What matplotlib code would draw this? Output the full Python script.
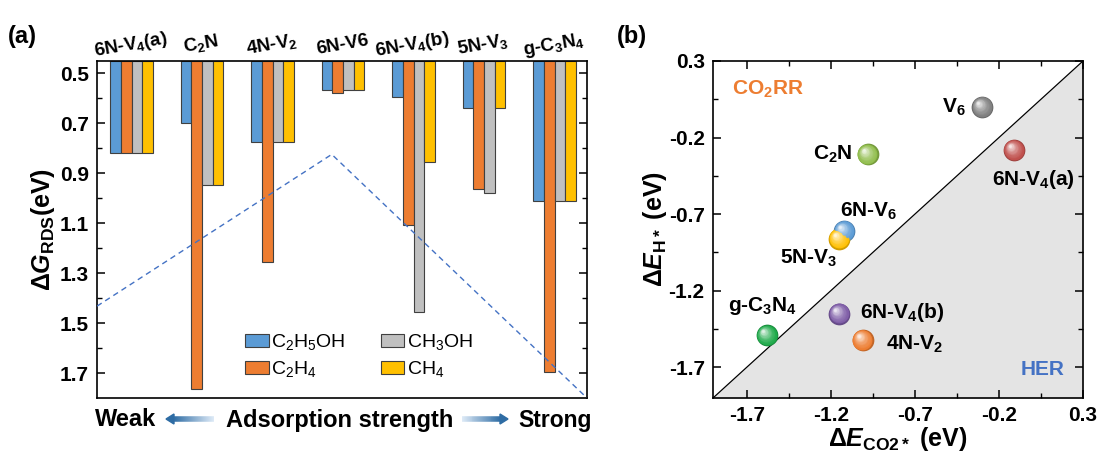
"""Two-panel figure: limiting-step free energies per catalyst (a) and CO2* vs H* binding map (b)."""

import numpy as np
import matplotlib
matplotlib.use("Agg")
import matplotlib.pyplot as plt
from matplotlib import transforms
from matplotlib.colors import to_rgb
from matplotlib.patches import Polygon

plt.rcParams['font.family'] = ['Liberation Sans', 'DejaVu Sans']
plt.rcParams['font.weight'] = 'bold'
plt.rcParams['mathtext.fontset'] = 'custom'
plt.rcParams['mathtext.default'] = 'regular'
plt.rcParams['mathtext.it'] = 'Liberation Sans:italic:bold'
plt.rcParams['axes.linewidth'] = 1.2

# ---- data, panel (a) ----
catalysts = ['6N-V$_4$(a)', 'C$_2$N', '4N-V$_2$', '6N-V6', '6N-V$_4$(b)', '5N-V$_3$', 'g-C$_3$N$_4$']
products = ['C$_2$H$_5$OH', 'C$_2$H$_4$', 'CH$_3$OH', 'CH$_4$']
g_c2h5oh = [0.82, 0.70, 0.775, 0.568, 0.595, 0.637, 1.012]
g_c2h4 = [0.82, 1.765, 1.257, 0.577, 1.107, 0.964, 1.695]
g_ch3oh = [0.82, 0.945, 0.775, 0.568, 1.457, 0.977, 1.012]
g_ch4 = [0.82, 0.945, 0.775, 0.568, 0.855, 0.637, 1.012]
g_yticks = [0.5, 0.7, 0.9, 1.1, 1.3, 1.5, 1.7]
# volcano-like guide line (group index, dG)
trend_x = [-0.49, 2.84, 6.46]
trend_y = [1.432, 0.824, 1.80]

# ---- data, panel (b) ----
materials = ['V$_6$', '6N-V$_4$(a)', 'C$_2$N', '6N-V$_6$', '5N-V$_3$', 'g-C$_3$N$_4$', '6N-V$_4$(b)', '4N-V$_2$']
e_co2 = [-0.30, -0.11, -0.98, -1.12, -1.15, -1.58, -1.15, -1.01]
e_h = [0.0, -0.28, -0.31, -0.81, -0.86, -1.49, -1.35, -1.52]
e_ticks = [-1.7, -1.2, -0.7, -0.2, 0.3]

bar_colors = ['#5b9bd5', '#ed7d31', '#c0c0c0', '#ffc000']
ball_colors = ['#7f7f7f', '#c0504d', '#8fbc4a', '#5b9bd5', '#ffc000', '#1faa4a', '#7d5ba6', '#ed7d31']
# label offsets in points and alignment for panel (b)
label_pos = [(-12, 0, 'right'), (14, -21, 'center'), (-11, 0, 'right'), (18, 14, 'center'),
             (-22, -14, 'center'), (-3, 21, 'center'), (15, 1, 'left'), (17, -3, 'left')]

fig = plt.figure(figsize=(11.04, 4.57), dpi=100)
W, H = 1104, 457

# =================== panel (a) ===================
ax = fig.add_axes([97 / W, 1 - 398 / H, (587 - 97) / W, (398 - 61) / H])
x = np.arange(len(catalysts))
bw = 0.15
y_top = 0.45
for i, (vals, c, lab) in enumerate(zip([g_c2h5oh, g_c2h4, g_ch3oh, g_ch4], bar_colors, products)):
    v = np.array(vals)
    ax.bar(x + (i - 1.5) * bw, v - y_top, bottom=y_top, width=bw, color=c,
           edgecolor='#404040', linewidth=0.8, label=lab, zorder=2)

ax.plot(trend_x, trend_y, ls='--', color='#4472c4', lw=1.0, dashes=(4, 3), zorder=3)

ax.set_xlim(-0.49, 6.46)
ax.set_ylim(1.8, y_top)
ax.set_yticks(g_yticks)
ax.set_yticks(np.array(g_yticks[:-1]) + 0.1, minor=True)
ax.set_yticklabels([f'{t:.1f}' for t in g_yticks], fontsize=15, fontweight='bold')
ax.tick_params(axis='y', which='major', direction='in', length=6, width=1.1, right=True, pad=6)
ax.tick_params(axis='y', which='minor', direction='in', length=3.5, width=1.0, right=True)
ax.set_xticks([])

# catalyst names above the groups, slightly tilted
top_tr = transforms.blended_transform_factory(ax.transData, ax.transAxes)
for xi, name in zip(x, catalysts):
    ax.text(xi, 1.035, name, transform=top_tr, fontsize=13.5, fontweight='bold',
            rotation=10, rotation_mode='anchor', ha='center', va='baseline')
ax.set_ylabel('Δ$\\mathit{G}_{RDS}$(eV)', fontsize=18, fontweight='bold', labelpad=2)

ax.legend(loc='center', bbox_to_anchor=(0.535, 0.125), ncol=2, frameon=False,
          prop={'weight': 'normal', 'size': 14}, handlelength=1.2,
          handleheight=0.6, handletextpad=0.15, columnspacing=1.8, labelspacing=0.35)

# bottom caption with gradient arrows
fy = 1 - 420 / H
fig.text(95 / W, fy, 'Weak', fontsize=17, fontweight='bold', ha='left', va='center')
fig.text(340 / W, fy, 'Adsorption strength', fontsize=17, fontweight='bold', ha='center', va='center')
fig.text(592 / W, fy, 'Strong', fontsize=16.5, fontweight='bold', ha='right', va='center')


def grad_arrow(x_tail, x_head, y, n=40):
    dark = np.array(to_rgb('#2e6ca4'))
    light = np.array(to_rgb('#dce9f6'))
    head_len = 8 if x_head > x_tail else -8
    xs = np.linspace(x_tail, x_head - head_len, n + 1)
    for k in range(n):
        t = k / n
        col = light * (1 - t) + dark * t
        fig.add_artist(plt.Line2D([xs[k] / W, xs[k + 1] / W], [1 - y / H, 1 - y / H],
                                  color=col, lw=4, solid_capstyle='butt',
                                  transform=fig.transFigure))
    base = x_head - head_len
    tri = Polygon([[base / W, 1 - (y - 5) / H], [base / W, 1 - (y + 5) / H], [x_head / W, 1 - y / H]],
                  closed=True, color=dark, transform=fig.transFigure)
    fig.add_artist(tri)


grad_arrow(214, 166, 419)
grad_arrow(462, 508, 419)

fig.text(8 / W, 1 - 36 / H, '(a)', fontsize=17, fontweight='bold', va='center')
fig.text(617 / W, 1 - 36 / H, '(b)', fontsize=17, fontweight='bold', va='center')

# =================== panel (b) ===================
bx = fig.add_axes([713 / W, 1 - 398 / H, (1083 - 713) / W, (398 - 61) / H])
lo, hi = -1.9, 0.3
bx.fill_between([lo, hi], [lo, hi], lo, color='#e4e4e4', zorder=0, lw=0)
bx.plot([lo, hi], [lo, hi], color='black', lw=0.9, zorder=1)


def sphere(axis, xv, yv, color, size=245, layers=14):
    base = np.array(to_rgb(color))
    r_pt = np.sqrt(size) / 2
    axis.scatter([xv], [yv], s=size, color=base * 0.82, lw=0, zorder=4)
    for k in range(1, layers + 1):
        t = k / layers
        f = 1 - 0.88 * t
        col = base * (1 - t ** 1.6 * 0.85) + np.ones(3) * t ** 1.6 * 0.85
        if k == 1:
            col = base
        d = (1 - f) * r_pt * 0.42
        tr = transforms.offset_copy(axis.transData, fig=fig, x=-d, y=d, units='points')
        axis.scatter([xv], [yv], s=size * f ** 2 * 0.95, color=np.clip(col, 0, 1),
                     lw=0, zorder=4 + k * 0.01, transform=tr)


for xv, yv, c, name, (dx, dy, ha) in zip(e_co2, e_h, ball_colors, materials, label_pos):
    sphere(bx, xv, yv, c)
    bx.annotate(name, (xv, yv), xytext=(dx, dy), textcoords='offset points',
                ha=ha, va='center', fontsize=15, fontweight='bold', zorder=6)

bx.text(0.052, 0.915, 'CO$_2$RR', transform=bx.transAxes, color='#ed7d31',
        fontsize=15, fontweight='bold', ha='left', va='center')
bx.text(0.95, 0.085, 'HER', transform=bx.transAxes, color='#4472c4',
        fontsize=15, fontweight='bold', ha='right', va='center')

bx.set_xlim(lo, hi)
bx.set_ylim(lo, hi)
bx.set_xticks(e_ticks)
bx.set_yticks(e_ticks)
minor = np.array(e_ticks[:-1]) + 0.25
bx.set_xticks(minor, minor=True)
bx.set_yticks(minor, minor=True)
bx.set_xticklabels([f'{t:.1f}' for t in e_ticks], fontsize=15, fontweight='bold')
bx.set_yticklabels([f'{t:.1f}' for t in e_ticks], fontsize=15, fontweight='bold')
bx.tick_params(which='major', direction='in', length=6, width=1.1, top=True, right=True, pad=6)
bx.tick_params(which='minor', direction='in', length=3.5, width=1.0, top=True, right=True)
bx.set_xlabel('Δ$\\mathit{E}_{CO2*}$ (eV)', fontsize=18, fontweight='bold', labelpad=0)
bx.set_ylabel('Δ$\\mathit{E}_{H*}$ (eV)', fontsize=18, fontweight='bold', labelpad=0)

fig.savefig('out.png', dpi=100)
